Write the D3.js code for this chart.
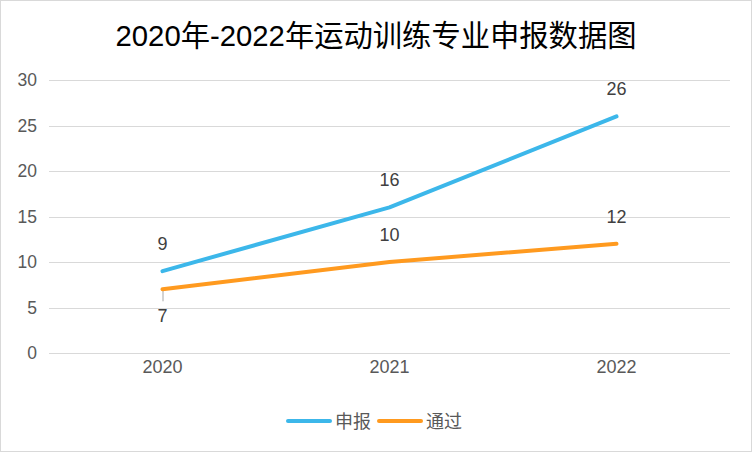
<!DOCTYPE html>
<html><head><meta charset="utf-8">
<script src="https://cdn.jsdelivr.net/npm/d3@7"></script>
<style>body{margin:0;background:#fff}svg{display:block}</style>
</head><body>
<script>
const title = "2020年-2022年运动训练专业申报数据图";
const categories = ["2020", "2021", "2022"];
const seriesNames = ["申报", "通过"];
const shenbao = [9, 16, 26];
const tongguo = [7, 10, 12];
const yTicks = [0, 5, 10, 15, 20, 25, 30];
const colors = ["#3cb7ea", "#ff9a1f"];

const W = 752, H = 452;
const FONT = "'Liberation Sans', Arial, 'Noto Sans CJK SC', sans-serif";
const svg = d3.select("body").append("svg").attr("width", W).attr("height", H);
svg.append("rect").attr("x", 0.5).attr("y", 0.5).attr("width", W - 1).attr("height", H - 1)
  .attr("fill", "#fff").attr("stroke", "#d9d9d9");

svg.append("text").attr("x", 376).attr("y", 46).attr("text-anchor", "middle")
  .attr("font-family", FONT).attr("font-size", 29.3).attr("fill", "#000").text(title);

const x = d3.scaleBand().domain(categories).range([49, 730]);
const y = d3.scaleLinear().domain([0, 30]).range([353, 80]);

// grid
svg.append("g").selectAll("line").data(yTicks).join("line")
  .attr("x1", 49).attr("x2", 730)
  .attr("y1", d => Math.round(y(d)) + 0.5).attr("y2", d => Math.round(y(d)) + 0.5)
  .attr("stroke", "#d9d9d9").attr("stroke-width", 1);

// y axis labels
const yAxis = d3.axisLeft(y).tickValues(yTicks).tickSize(0).tickPadding(0);
const gy = svg.append("g").attr("transform", "translate(37,0)").call(yAxis);
gy.select(".domain").remove();
gy.selectAll("text").attr("font-family", FONT).attr("font-size", 17.5).attr("fill", "#595959");

// x axis labels
const xAxis = d3.axisBottom(x).tickSize(0).tickPadding(0);
const gx = svg.append("g").attr("transform", "translate(0,360)").call(xAxis);
gx.select(".domain").remove();
gx.selectAll("text").attr("font-family", FONT).attr("font-size", 18).attr("fill", "#595959");

const cx = d => x(d) + x.bandwidth() / 2;
const line = d3.line().x(d => cx(d.c)).y(d => y(d.v));
const data = [shenbao, tongguo].map(arr => arr.map((v, i) => ({ c: categories[i], v })));

// leader line for 7
svg.append("line").attr("x1", cx(categories[0]) + 0.5).attr("x2", cx(categories[0]) + 0.5)
  .attr("y1", y(tongguo[0])).attr("y2", y(tongguo[0]) + 12)
  .attr("stroke", "#a6a6a6").attr("stroke-width", 1);

data.forEach((s, i) => {
  svg.append("path").datum(s).attr("d", line).attr("fill", "none")
    .attr("stroke", colors[i]).attr("stroke-width", 4).attr("stroke-linecap", "round")
    .attr("stroke-linejoin", "round");
});

// data labels
const lbl = (cxp, cyp, t) => svg.append("text").attr("x", cxp).attr("y", cyp)
  .attr("text-anchor", "middle").attr("font-family", FONT).attr("font-size", 18)
  .attr("fill", "#404040").text(t);
shenbao.forEach((v, i) => lbl(cx(categories[i]), y(v) - 21, v));
tongguo.forEach((v, i) => {
  if (i === 0) lbl(cx(categories[i]), y(v) + 33, v);
  else lbl(cx(categories[i]), y(v) - 21, v);
});

// legend
const lg = svg.append("g");
const legendItems = [{ x: 288, name: seriesNames[0], c: colors[0] }, { x: 379, name: seriesNames[1], c: colors[1] }];
legendItems.forEach(it => {
  lg.append("line").attr("x1", it.x).attr("x2", it.x + 42).attr("y1", 421).attr("y2", 421)
    .attr("stroke", it.c).attr("stroke-width", 4).attr("stroke-linecap", "round");
  lg.append("text").attr("x", it.x + 47).attr("y", 428).attr("font-family", FONT)
    .attr("font-size", 18).attr("fill", "#595959").text(it.name);
});
</script>
</body></html>
